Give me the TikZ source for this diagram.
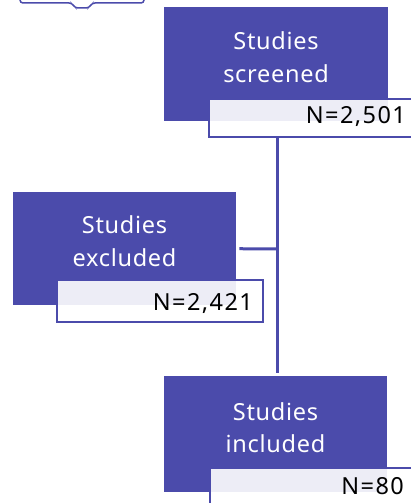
\documentclass[tikz,border=0pt]{standalone}
\usepackage{fontspec}
\setmainfont[LetterSpace=3]{Noto Sans}
\newfontfamily\nfont[LetterSpace=6]{Noto Sans}
\definecolor{pur}{HTML}{4B4BAB}
\begin{document}
\begin{tikzpicture}[x=1pt,y=-1pt,
  mainbox/.style={fill=pur, draw=none, inner sep=0pt, anchor=north west},
  nbox/.style={draw=pur, line width=1.5pt, fill=white, fill opacity=0.9, inner sep=0pt, anchor=north west},
  wtext/.style={text=white, font=\fontsize{23.5}{28}\selectfont, anchor=base, inner sep=0pt},
  ntext/.style={text=black, font=\nfont\fontsize{23.5}{28}\selectfont, anchor=base east, inner sep=0pt},
  conn/.style={draw=pur, line width=3pt}]
\useasboundingbox (0,0) rectangle (411,503);
\clip (0,0) rectangle (411,503);
% partial shape at top left
\draw[pur, line width=1.5pt, rounded corners=3pt] (20,-10) -- (20,3) -- (72,3) -- (75,8) -- (89,8) -- (92,3) -- (144,3) -- (144,-10);
% screened
\node[mainbox, minimum width=224, minimum height=114] (scr) at (164,7) {};
\node[nbox, minimum width=215, minimum height=38] (scrN) at (208,98) {};
\node[wtext] (scr1) at (276,49) {Studies};
\node[wtext] (scr2) at (276,82) {screened};
\node[ntext] (scrn) at (406,123) {N=2,501};
% excluded
\node[mainbox, minimum width=223, minimum height=113] (exc) at (13,192) {};
\node[nbox, minimum width=206, minimum height=42] (excN) at (56,279) {};
\node[wtext] (exc1) at (124.5,233) {Studies};
\node[wtext] (exc2) at (124.5,266) {excluded};
\node[ntext] (excn) at (253,310) {N=2,421};
% included
\node[mainbox, minimum width=223, minimum height=116] (inc) at (164,376) {};
\node[nbox, minimum width=215, minimum height=45] (incN) at (209,467) {};
\node[wtext] (inc1) at (275.5,420) {Studies};
\node[wtext] (inc2) at (275.5,452) {included};
\node[ntext] (incn) at (404,494) {N=80};
% connectors
\coordinate (j) at (277,249);
\draw[conn, shorten >=3pt] (scrN.south -| j) -- (inc.north -| j);
\draw[conn, shorten <=3pt] (exc.east) -- (j);
\end{tikzpicture}
\end{document}
